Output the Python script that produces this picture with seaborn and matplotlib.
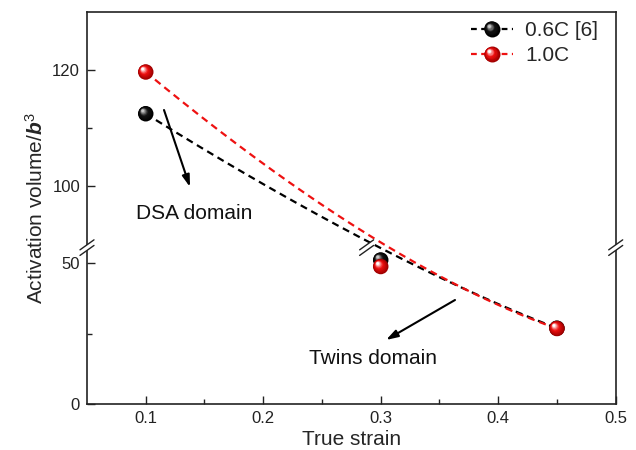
import numpy as np
import pandas as pd
import matplotlib
matplotlib.use("Agg")
import matplotlib.pyplot as plt
import seaborn as sns
from matplotlib.lines import Line2D
from matplotlib.patches import Polygon
from matplotlib.transforms import IdentityTransform, offset_copy
from matplotlib.legend_handler import HandlerLine2D
from matplotlib.colors import to_rgb

# ---------------- data ----------------
strain = [0.1, 0.3, 0.45]
vol_06C = [112.5, 51.2, 27.0]
vol_10C = [119.7, 48.9, 26.9]
series_labels = ["0.6C [6]", "1.0C"]
x_major = [0.1, 0.2, 0.3, 0.4, 0.5]
x_minor = [0.15, 0.25, 0.35, 0.45]
y_major = [0, 50, 100, 120]
y_minor = [25, 110]

# ---------------- style ----------------
sns.set_style("ticks")
plt.rcParams["font.family"] = ["Liberation Sans", "DejaVu Sans"]
plt.rcParams["mathtext.fontset"] = "custom"
plt.rcParams["mathtext.rm"] = "Liberation Sans"
plt.rcParams["mathtext.it"] = "Liberation Sans:italic"
plt.rcParams["mathtext.bf"] = "Liberation Sans:bold"
try:
    plt.rcParams["mathtext.bfit"] = "Liberation Sans:bold:italic"
except KeyError:
    pass

# broken y axis (no gap) via piecewise scale
BREAK_LO, BREAK_HI, K = 55.6, 89.4, 2.057


def fwd(y):
    y = np.asarray(y, float)
    return np.where(y <= BREAK_LO, y,
                    np.where(y >= BREAK_HI, BREAK_LO + (y - BREAK_HI) * K, BREAK_LO))


def inv(t):
    t = np.asarray(t, float)
    return np.where(t <= BREAK_LO, t, BREAK_HI + (t - BREAK_LO) / K)


W, H = 636, 450
fig = plt.figure(figsize=(W / 100, H / 100), dpi=100)
L, R, T, B = 87, 615.7, 12.3, 404.3
ax = fig.add_axes([L / W, 1 - B / H, (R - L) / W, (B - T) / H])
ax.set_yscale("function", functions=(fwd, inv))
ax.set_xlim(0.05, 0.5)
ax.set_ylim(0, 130)

RED = "#EE1111"
colors = ["#000000", RED]
series = [vol_06C, vol_10C]
ball_cols = [("#000000", "#151515", "#c8c8c8"), ("#A00000", "#F01010", "#ffffff")]

# B-spline (quadratic Bezier) connecting lines, computed in axis space
tt = np.linspace(0, 1, 300)
for vals, c in zip(series, colors):
    px = np.asarray(strain, float)
    py = fwd(vals)
    bx = (1 - tt) ** 2 * px[0] + 2 * tt * (1 - tt) * px[1] + tt ** 2 * px[2]
    by = (1 - tt) ** 2 * py[0] + 2 * tt * (1 - tt) * py[1] + tt ** 2 * py[2]
    df = pd.DataFrame({"strain": bx, "vol": inv(by)})
    sns.lineplot(data=df, x="strain", y="vol", ax=ax, color=c, lw=1.6,
                 sort=False, estimator=None, legend=False, zorder=3)
    ax.lines[-1].set_dashes([3.2, 2.2])


def mix(a, b, t):
    a, b = np.array(to_rgb(a)), np.array(to_rgb(b))
    return tuple(a + (b - a) * t)


def shade(dark, body, light, t):
    if t < 0.55:
        return mix(dark, body, t / 0.55)
    return mix(body, light, (t - 0.55) / 0.45)


def balls(xv, yv, dark, body, light, z):
    for i, t in enumerate(np.linspace(0, 1, 9)):
        d = 15.5 * (1 - 0.82 * t)  # px
        off = offset_copy(ax.transData, fig=fig, x=-3.0 * t, y=3.0 * t, units="dots")
        col = shade(dark, body, light, t)
        s = (d * 0.72) ** 2
        if i == 0:
            sns.scatterplot(x=xv, y=yv, ax=ax, s=s, color=col, edgecolor="none",
                            legend=False, zorder=z)
        else:
            ax.scatter(xv, yv, s=s, color=col, edgecolors="none", zorder=z + 0.01 * i,
                       transform=off)


for (vals, (dk, bd, lt)), z in zip(zip(series, ball_cols), (6, 7)):
    balls(strain, vals, dk, bd, lt, z)

# ticks
ax.set_xticks(x_major)
ax.set_xticks(x_minor, minor=True)
ax.set_xticklabels(["0.1", "0.2", "0.3", "0.4", "0.5"])
ax.set_yticks(y_major)
ax.set_yticks(y_minor, minor=True)
ax.set_yticklabels([str(v) for v in y_major])
ax.tick_params(which="both", direction="in", top=False, right=False,
               width=1.0, labelsize=12, colors="#222222")
ax.tick_params(which="major", length=6, pad=5)
ax.tick_params(which="minor", length=3.5)
for sp in ax.spines.values():
    sp.set_visible(True)
    sp.set_linewidth(1.2)
    sp.set_color("#222222")

ax.set_xlabel("True strain", fontsize=15, labelpad=3)
ax.set_ylabel(r"Activation volume/$\mathbfit{b}^3$", fontsize=15, labelpad=4)


# legend with shaded "ball" markers
class BallHandler(HandlerLine2D):
    def __init__(self, cols, **kw):
        super().__init__(**kw)
        self.cols = cols

    def create_artists(self, legend, orig_handle, xdescent, ydescent, width, height,
                       fontsize, trans):
        arts = super().create_artists(legend, orig_handle, xdescent, ydescent, width,
                                      height, fontsize, trans)
        mk = arts[-1]
        xc = float(np.mean(mk.get_xdata()))
        yc = float(np.mean(mk.get_ydata()))
        dark, body, light = self.cols
        extra = []
        for t in np.linspace(0, 1, 9)[1:]:
            ms = 11.5 * (1 - 0.82 * t)
            extra.append(Line2D([xc - 2.1 * t], [yc + 2.1 * t], ls="none", marker="o",
                                ms=ms, mfc=shade(dark, body, light, t), mec="none",
                                transform=trans))
        return arts + extra


handles = []
hmap = {}
for c, cols in zip(colors, ball_cols):
    h = Line2D([], [], color=c, lw=1.6, dashes=[2.6, 2.0], marker="o", markersize=11.5,
               markerfacecolor=cols[0], markeredgecolor="none")
    handles.append(h)
    hmap[h] = BallHandler(cols)
leg = ax.legend(handles, series_labels, handler_map=hmap,
                loc="upper left", bbox_to_anchor=(471 / W, 1 - 21 / H),
                bbox_transform=fig.transFigure, frameon=False, fontsize=15,
                handlelength=2.0, handletextpad=0.6, labelspacing=0.3,
                borderpad=0, borderaxespad=0)

# annotations
arrow = dict(arrowstyle="-|>,head_length=0.7,head_width=0.22", color="k", lw=1.5,
             shrinkA=0, shrinkB=0)
ax.annotate("", xy=(190 / W, 1 - 187 / H), xytext=(164 / W, 1 - 110 / H),
            xycoords="figure fraction", textcoords="figure fraction", arrowprops=arrow)
ax.annotate("", xy=(386 / W, 1 - 340 / H), xytext=(455 / W, 1 - 300 / H),
            xycoords="figure fraction", textcoords="figure fraction", arrowprops=arrow)
fig.text(136.5 / W, 1 - 213 / H, "DSA domain", fontsize=15, ha="left", va="center",
         color="#111111")
fig.text(309 / W, 1 - 358 / H, "Twins domain", fontsize=15, ha="left", va="center",
         color="#111111")


# break marks
def break_mark(cx, cy, w=7.0, h=5.0, gap=2.8):
    poly = Polygon([(cx - w, cy - h - gap), (cx + w, cy + h - gap),
                    (cx + w, cy + h + gap), (cx - w, cy - h + gap)],
                   closed=True, facecolor="white", edgecolor="none",
                   transform=IdentityTransform(), zorder=10)
    fig.add_artist(poly)
    for g in (-gap, gap):
        fig.add_artist(Line2D([cx - w, cx + w], [cy - h + g, cy + h + g], color="#222222",
                              lw=1.0, transform=IdentityTransform(), zorder=11))


yb = ax.transData.transform((0.1, BREAK_LO))[1]
x_left = ax.transAxes.transform((0, 0))[0]
x_right = ax.transAxes.transform((1, 0))[0]
x_mid = ax.transData.transform((0.288, BREAK_LO))[0]
break_mark(x_left, yb)
break_mark(x_right, yb)
break_mark(x_mid, yb)

fig.savefig("out.png", dpi=100)
